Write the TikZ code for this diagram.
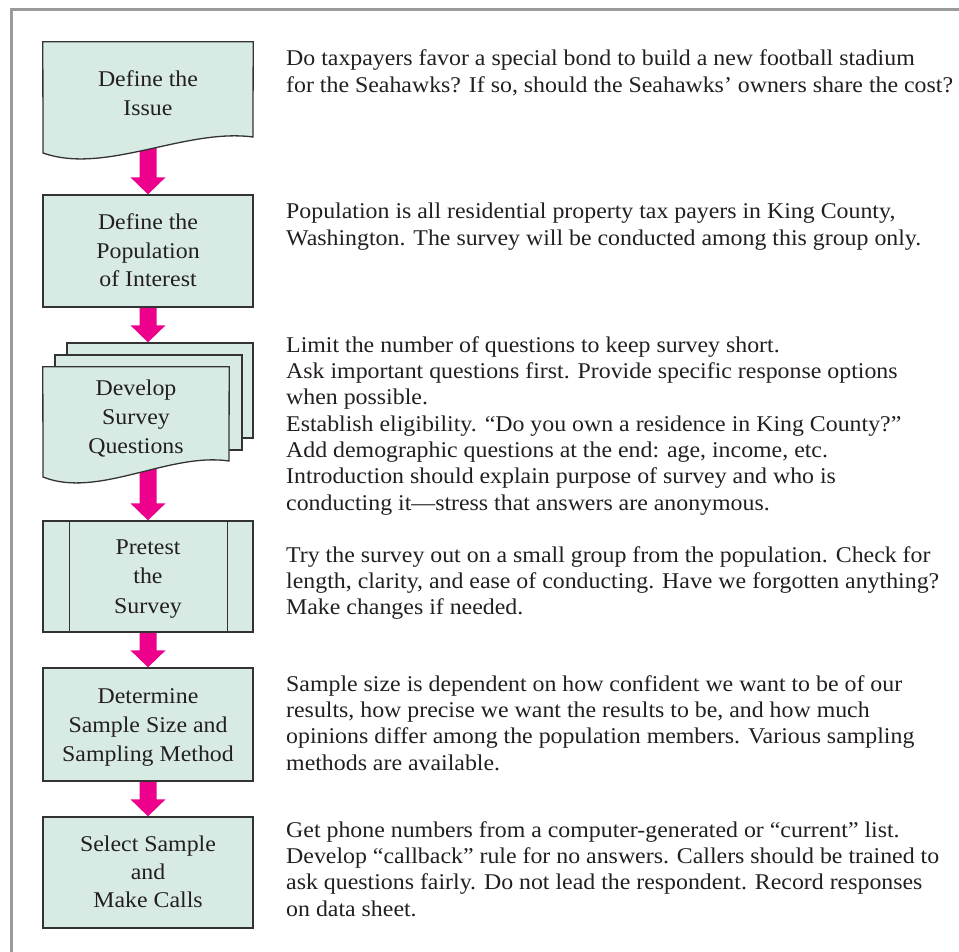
\documentclass[tikz,border=0pt]{standalone}
\usepackage{fontspec}
\setmainfont[FakeStretch=1.06]{Liberation Serif}
\usetikzlibrary{calc,backgrounds}

\definecolor{boxfill}{HTML}{D7EBE4}
\definecolor{boxline}{HTML}{333333}
\definecolor{arrowpink}{HTML}{EC008C}
\definecolor{framegray}{HTML}{9B9B9B}
\definecolor{ink}{HTML}{231F20}

% stacked lines of text; #1 = line spacing, #2 = column type, #3 = lines
\newcommand\textstack[3]{\fontsize{22.5}{#1}\selectfont\begin{tabular}[t]{@{}#2@{}}#3\end{tabular}}

% fat magenta arrow: shaft from #1, tip at #2
\newcommand\fatarrow[2]{%
  \fill[arrowpink] ($(#1)+(-8.5,0)$) -- ($(#2)+(-8.5,-17)$) -- ($(#2)+(-17.5,-17)$)
    -- (#2) -- ($(#2)+(17.5,-17)$) -- ($(#2)+(8.5,-17)$) -- ($(#1)+(8.5,0)$) -- cycle;}

\tikzset{
  stepbox/.style={rectangle, draw=boxline, fill=boxfill, line width=1.3pt,
    inner sep=0pt, minimum width=210pt},
  stepframe/.style={rectangle, draw=none, inner sep=0pt},
  docline/.style={draw=boxline, fill=boxfill, line width=1.3pt, line join=miter},
  boxtext/.style={anchor=base, inner sep=0pt, text=ink},
  note/.style={anchor=base west, inner sep=0pt, text=ink},
}

\begin{document}
\begin{tikzpicture}[x=1pt, y=-1pt]
\useasboundingbox (0,0) rectangle (959,952);
\clip (0,0) rectangle (959,952);

% outer frame
\draw[framegray, line width=3pt] (11.5,9.5) rectangle (1000,1000);

% step boxes
\node[stepframe, minimum width=210pt, minimum height=111pt] (b1) at (148,97.5) {};
\draw[docline] (b1.north west) -- (b1.north east) -- (253,137)
  .. controls (185,128) and (105,175) .. (43,153) -- cycle;

\node[stepbox, minimum height=112pt] (b2) at (148,251) {};

\node[stepbox, minimum width=186pt, minimum height=95pt] (b3c) at (160,390.5) {};
\node[stepbox, minimum width=187pt, minimum height=95pt] (b3b) at (148.5,402.5) {};
\node[stepframe, minimum width=186pt, minimum height=110pt] (b3) at (136,422) {};
\draw[docline] (b3.north west) -- (b3.north east) -- (229,461)
  .. controls (169,452) and (98,499) .. (43,477) -- cycle;

\node[stepbox, minimum height=111pt] (b4) at (148,576.5) {};
\draw[boxline, line width=1.3pt] ($(b4.north west)+(27,0)$) -- ($(b4.south west)+(27,0)$);
\draw[boxline, line width=1.3pt] ($(b4.north east)+(-26,0)$) -- ($(b4.south east)+(-26,0)$);

\node[stepbox, minimum height=113pt] (b5) at (148,724.5) {};
\node[stepbox, minimum height=111pt] (b6) at (148,872.5) {};

% connectors between the steps
\begin{scope}[on background layer]
  \fill[white] (0,0) rectangle (959,952);
  \fatarrow{b1.center}{b2.north}
  \fatarrow{b2.center}{b2.center |- b3c.north}
  \fatarrow{b4.north |- b3.center}{b4.north}
  \fatarrow{b4.center}{b5.north}
  \fatarrow{b5.center}{b6.north}
\end{scope}

% step labels
\node[boxtext] (d1) at (148,87) {\textstack{29}{c}{Define the\\Issue}};
\node[boxtext] (d2) at (148,230) {\textstack{28.5}{c}{Define the\\Population\\of Interest}};
\node[boxtext] (d3) at (136,395) {\textstack{29}{c}{Develop\\Survey\\Questions}};
\node[boxtext] (d4) at (148,554) {\textstack{29.5}{c}{Pretest\\the\\Survey}};
\node[boxtext] (d5) at (148,703) {\textstack{29}{c}{Determine\\Sample Size and\\Sampling Method}};
\node[boxtext] (d6) at (148,851) {\textstack{28}{c}{Select Sample\\and\\Make Calls}};

% explanatory notes
\node[note] (n1) at (286,66) {\textstack{26.4}{l}{%
  Do taxpayers favor a special bond to build a new football stadium\\
  for the Seahawks? If so, should the Seahawks’ owners share the cost?}};
\node[note] (n2) at (286,219) {\textstack{26.4}{l}{%
  Population is all residential property tax payers in King County,\\
  Washington. The survey will be conducted among this group only.}};
\node[note] (n3) at (286,352) {\textstack{26.4}{l}{%
  Limit the number of questions to keep survey short.\\
  Ask important questions first. Provide specific response options\\
  when possible.\\
  Establish eligibility. “Do you own a residence in King County?”\\
  Add demographic questions at the end: age, income, etc.\\
  Introduction should explain purpose of survey and who is\\
  conducting it—stress that answers are anonymous.}};
\node[note] (n4) at (286,562) {\textstack{26.4}{l}{%
  Try the survey out on a small group from the population. Check for\\
  length, clarity, and ease of conducting. Have we forgotten anything?\\
  Make changes if needed.}};
\node[note] (n5) at (286,691) {\textstack{26.4}{l}{%
  Sample size is dependent on how confident we want to be of our\\
  results, how precise we want the results to be, and how much\\
  opinions differ among the population members. Various sampling\\
  methods are available.}};
\node[note] (n6) at (286,837) {\textstack{26.4}{l}{%
  Get phone numbers from a computer-generated or “current” list.\\
  Develop “callback” rule for no answers. Callers should be trained to\\
  ask questions fairly. Do not lead the respondent. Record responses\\
  on data sheet.}};
\end{tikzpicture}
\end{document}
